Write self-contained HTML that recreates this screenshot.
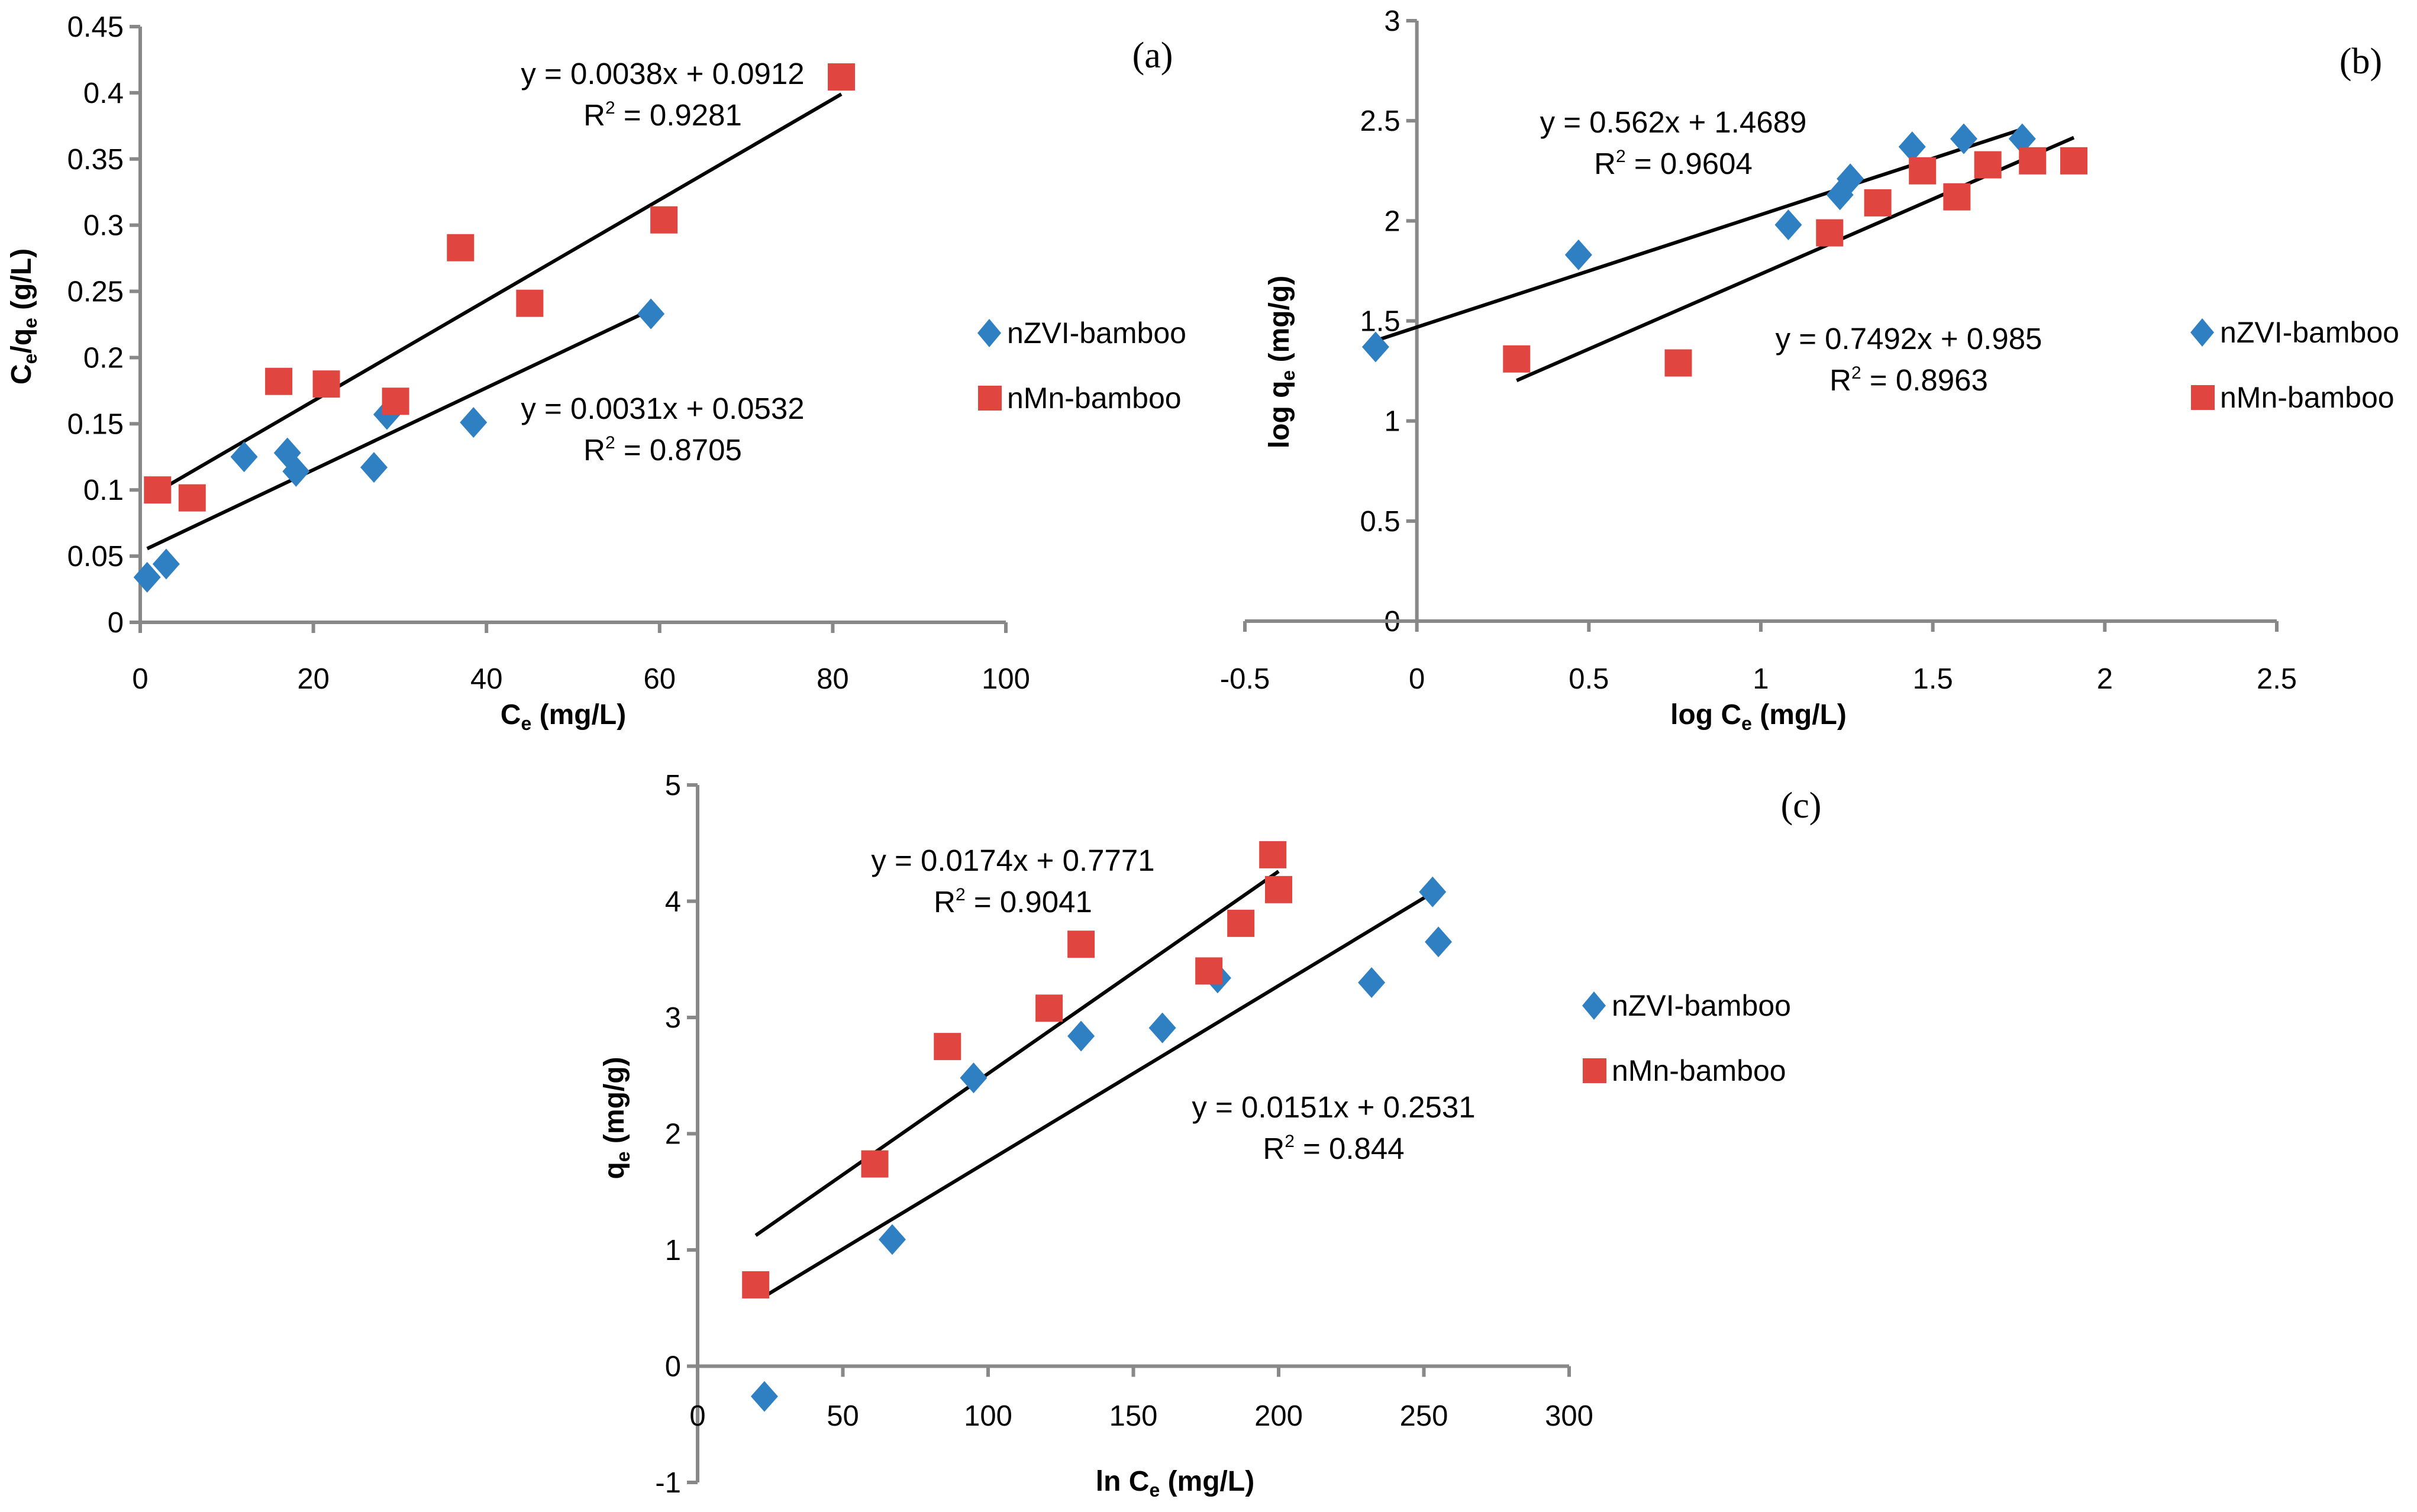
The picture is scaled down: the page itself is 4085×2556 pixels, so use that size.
<!DOCTYPE html>
<html><head><meta charset="utf-8"><style>
html,body{margin:0;padding:0;background:#fff;}
svg{display:block;}
text{font-family:"Liberation Sans Narrow","Liberation Sans",sans-serif;fill:#000;}
.tick{font-size:49px;}
.eq{font-size:51px;}
.leg{font-size:50px;}
.title{font-size:48px;font-weight:bold;}
.tag{font-family:"Liberation Serif",serif;font-size:62px;}
</style></head><body>
<svg id="fig" width="4085" height="2556" viewBox="0 0 4085 2556" xmlns="http://www.w3.org/2000/svg"></svg>
<script>
// ---- Chart (a) data ----
const aZviX = [0.8, 3, 12, 17, 18, 27, 28.5, 38.5, 59];
const aZviY = [0.034, 0.044, 0.125, 0.128, 0.114, 0.117, 0.157, 0.151, 0.233];
const aMnX = [2, 6, 16, 21.5, 29.5, 37, 45, 60.5, 81];
const aMnY = [0.1, 0.094, 0.182, 0.18, 0.167, 0.283, 0.241, 0.304, 0.412];
const aFitZvi = [0.0031, 0.0532];
const aFitMn = [0.0038, 0.0912];
const aXTicks = [0, 20, 40, 60, 80, 100];
const aYTicks = [0, 0.05, 0.1, 0.15, 0.2, 0.25, 0.3, 0.35, 0.4, 0.45];
const aYLabels = ["0","0.05","0.1","0.15","0.2","0.25","0.3","0.35","0.4","0.45"];
// ---- Chart (b) data ----
const bZviX = [-0.12, 0.47, 1.08, 1.23, 1.26, 1.44, 1.59, 1.76];
const bZviY = [1.37, 1.83, 1.98, 2.13, 2.21, 2.37, 2.41, 2.41];
const bMnX = [0.29, 0.76, 1.2, 1.34, 1.47, 1.57, 1.66, 1.79, 1.91];
const bMnY = [1.31, 1.29, 1.94, 2.09, 2.25, 2.12, 2.28, 2.30, 2.30];
const bFitZvi = [0.562, 1.4689];
const bFitMn = [0.7492, 0.985];
const bXTicks = [-0.5, 0, 0.5, 1, 1.5, 2, 2.5];
const bYTicks = [0, 0.5, 1, 1.5, 2, 2.5, 3];
// ---- Chart (c) data ----
const cZviX = [23, 67, 95, 132, 160, 179, 232, 253, 255];
const cZviY = [-0.26, 1.09, 2.48, 2.84, 2.91, 3.34, 3.30, 4.08, 3.65];
const cMnX = [20, 61, 86, 121, 132, 176, 187, 198, 200];
const cMnY = [0.70, 1.74, 2.75, 3.08, 3.63, 3.40, 3.81, 4.40, 4.10];
const cFitZvi = [0.0151, 0.2531];
const cFitMn = [0.0174, 0.7771];
const cXTicks = [0, 50, 100, 150, 200, 250, 300];
const cYTicks = [-1, 0, 1, 2, 3, 4, 5];

const NS = "http://www.w3.org/2000/svg";
const svg = document.getElementById('fig');
const BLUE = "#2f80c2", RED = "#e0463f", AX = "#888888";
function mk(tag, attrs, parent) {
  const e = document.createElementNS(NS, tag);
  for (const k in attrs) e.setAttribute(k, attrs[k]);
  (parent || svg).appendChild(e);
  return e;
}
function txt(parent, x, y, s, cls, anchor) {
  const t = mk('text', {x: x, y: y, class: cls, 'text-anchor': anchor || 'middle'}, parent);
  t.innerHTML = s;
  return t;
}

function chart(id, cfg) {
  const g = mk('g', {});
  
  
  const sx = v => cfg.x0 + (v - cfg.xmin) / (cfg.xmax - cfg.xmin) * (cfg.x1 - cfg.x0);
  const sy = v => cfg.y0 + (v - cfg.ymin) / (cfg.ymax - cfg.ymin) * (cfg.y1 - cfg.y0);
  const axY = sx(cfg.yAxisAt), axX = sy(cfg.xAxisAt);
  const ya = mk('line', {x1: axY, x2: axY, y1: sy(cfg.ymin), y2: sy(cfg.ymax), stroke: AX, 'stroke-width': 6}, g);
  
  
  cfg.yTicks.forEach((v, i) => {
    mk('line', {x1: axY - 18, x2: axY, y1: sy(v), y2: sy(v), stroke: AX, 'stroke-width': 6}, g);
    const t = txt(g, axY - 28, sy(v) + 17, cfg.yLabels ? cfg.yLabels[i] : String(v), 'tick', 'end');
    
    
  });
  const xa = mk('line', {x1: sx(cfg.xmin), x2: sx(cfg.xmax), y1: axX, y2: axX, stroke: AX, 'stroke-width': 6}, g);
  
  
  cfg.xTicks.forEach(v => {
    mk('line', {x1: sx(v), x2: sx(v), y1: axX, y2: axX + 18, stroke: AX, 'stroke-width': 6}, g);
    const t = txt(g, sx(v), cfg.xLabelY, String(v), 'tick', 'middle');
    
    
  });
  function fit(xs, f, name) {
    const lo = Math.min(...xs), hi = Math.max(...xs);
    const l = mk('line', {x1: sx(lo), y1: sy(f[0] * lo + f[1]), x2: sx(hi), y2: sy(f[0] * hi + f[1]), stroke: '#000', 'stroke-width': 6}, g);
    
    
  }
  fit(cfg.mnX, cfg.fitMn, 'trendline-nmn');
  fit(cfg.zviX, cfg.fitZvi, 'trendline-nzvi');
  cfg.zviX.forEach((xv, i) => {
    const cx = sx(xv), cy = sy(cfg.zviY[i]), r = 26, w = 23;
    const p = mk('polygon', {points: `${cx},${cy - r} ${cx + w},${cy} ${cx},${cy + r} ${cx - w},${cy}`, fill: BLUE}, g);
    
    
  });
  cfg.mnX.forEach((xv, i) => {
    const cx = sx(xv), cy = sy(cfg.mnY[i]), h = 23;
    const p = mk('rect', {x: cx - h, y: cy - h, width: 2 * h, height: 2 * h, fill: RED}, g);
    
    
  });
  cfg.eqs.forEach(e => {
    const t1 = txt(g, e[0], e[1], e[2], 'eq');
    
    
    const t2 = txt(g, e[0], e[1] + 70, 'R<tspan font-size="30" dy="-20">2</tspan><tspan dy="20"> = ' + e[3] + '</tspan>', 'eq');
    
    
  });
  const lg = mk('g', {}, g);
  
  
  const [lx, ly] = cfg.legend;
  mk('polygon', {points: `${lx},${ly - 24} ${lx + 20},${ly} ${lx},${ly + 24} ${lx - 20},${ly}`, fill: BLUE}, lg);
  const l1 = txt(lg, lx + 30, ly + 17, 'nZVI-bamboo', 'leg', 'start');
  
  
  mk('rect', {x: lx - 19, y: ly + 110 - 21, width: 40, height: 42, fill: RED}, lg);
  const l2 = txt(lg, lx + 30, ly + 110 + 17, 'nMn-bamboo', 'leg', 'start');
  
  
  const xt = txt(g, cfg.xTitle[0], cfg.xTitle[1], cfg.xTitle[2], 'title');
  
  
  const yt = txt(g, 0, 0, cfg.yTitle[2], 'title');
  yt.setAttribute('transform', `translate(${cfg.yTitle[0]},${cfg.yTitle[1]}) rotate(-90)`);
  
  
  const tg = txt(g, cfg.tag[0], cfg.tag[1], cfg.tag[2], 'tag');
  
  
}

const sub = s => '<tspan font-size="32" dy="10">' + s + '</tspan><tspan dy="-10">';

chart('a', {
  x0: 237, x1: 1700, xmin: 0, xmax: 100, y0: 1052, y1: 45, ymin: 0, ymax: 0.45,
  yAxisAt: 0, xAxisAt: 0, xTicks: aXTicks, yTicks: aYTicks, yLabels: aYLabels, xLabelY: 1164,
  zviX: aZviX, zviY: aZviY, mnX: aMnX, mnY: aMnY, fitZvi: aFitZvi, fitMn: aFitMn,
  eqs: [[1120, 142, 'y = 0.0038x + 0.0912', '0.9281'], [1120, 708, 'y = 0.0031x + 0.0532', '0.8705']],
  legend: [1672, 563],
  xTitle: [952, 1224, 'C' + sub('e') + ' (mg/L)</tspan>'],
  yTitle: [52, 535, 'C' + sub('e') + '/q</tspan>' + sub('e') + ' (g/L)</tspan>'],
  tag: [1948, 114, '(a)']
});
chart('b', {
  x0: 2104, x1: 3848, xmin: -0.5, xmax: 2.5, y0: 1050, y1: 35, ymin: 0, ymax: 3,
  yAxisAt: 0, xAxisAt: 0, xTicks: bXTicks, yTicks: bYTicks, xLabelY: 1164,
  zviX: bZviX, zviY: bZviY, mnX: bMnX, mnY: bMnY, fitZvi: bFitZvi, fitMn: bFitMn,
  eqs: [[2828, 224, 'y = 0.562x + 1.4689', '0.9604'], [3226, 590, 'y = 0.7492x + 0.985', '0.8963']],
  legend: [3722, 562],
  xTitle: [2972, 1224, 'log C' + sub('e') + ' (mg/L)</tspan>'],
  yTitle: [2178, 612, 'log q' + sub('e') + ' (mg/g)</tspan>'],
  tag: [3990, 124, '(b)']
});
chart('c', {
  x0: 1179, x1: 2652, xmin: 0, xmax: 300, y0: 2506, y1: 1327, ymin: -1, ymax: 5,
  yAxisAt: 0, xAxisAt: 0, xTicks: cXTicks, yTicks: cYTicks, xLabelY: 2410,
  zviX: cZviX, zviY: cZviY, mnX: cMnX, mnY: cMnY, fitZvi: cFitZvi, fitMn: cFitMn,
  eqs: [[1712, 1472, 'y = 0.0174x + 0.7771', '0.9041'], [2254, 1889, 'y = 0.0151x + 0.2531', '0.844']],
  legend: [2694, 1700],
  xTitle: [1986, 2520, 'ln C' + sub('e') + ' (mg/L)</tspan>'],
  yTitle: [1054, 1890, 'q' + sub('e') + ' (mg/g)</tspan>'],
  tag: [3044, 1382, '(c)']
});
</script>
</body></html>
